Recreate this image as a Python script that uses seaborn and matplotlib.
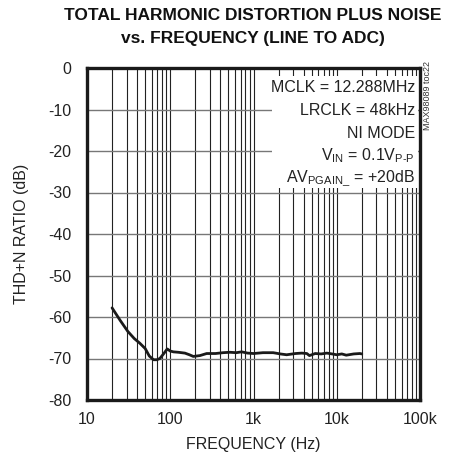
import numpy as np
import pandas as pd
import matplotlib
matplotlib.use("Agg")
import matplotlib.pyplot as plt
import seaborn as sns
from matplotlib.ticker import FixedLocator, NullFormatter

freq_hz = [20, 25, 31, 37, 43, 50, 56, 63, 69, 75, 83, 92, 100, 109, 125, 150, 170, 189,
           227, 274, 350, 430, 521, 620, 720, 850, 1000, 1300, 1726, 2100, 2500, 3200,
           3800, 4370, 4700, 5500, 6500, 7600, 8800, 10000, 11500, 13000, 16000, 19000, 20000]
thd_db = [-57.8, -60.8, -63.5, -65.2, -66.3, -67.6, -69.4, -70.3, -70.3, -70.0, -68.9, -67.7,
          -68.2, -68.4, -68.5, -68.7, -69.1, -69.5, -69.3, -68.8, -68.8, -68.6, -68.5, -68.6,
          -68.4, -68.7, -68.8, -68.6, -68.6, -68.9, -69.1, -68.8, -68.7, -68.8, -69.3, -68.8,
          -68.9, -68.7, -68.9, -69.1, -68.9, -69.2, -68.9, -68.8, -68.9]

x_ticks = [10, 100, 1000, 10000, 100000]
x_tick_labels = ["10", "100", "1k", "10k", "100k"]
y_ticks = [0, -10, -20, -30, -40, -50, -60, -70, -80]
y_tick_labels = ["0", "-10", "-20", "-30", "-40", "-50", "-60", "-70", "-80"]

title_lines = ["TOTAL HARMONIC DISTORTION PLUS NOISE", "vs. FREQUENCY (LINE TO ADC)"]
notes = ["MCLK = 12.288MHz", "LRCLK = 48kHz", "NI MODE",
         "V$_{\\mathregular{IN}}$ = 0.1V$_{\\mathregular{P\u2010P}}$",
         "AV$_{\\mathregular{PGAIN\\_}}$ = +20dB"]

sns.set_theme(style="white")
plt.rcParams["font.family"] = ["Liberation Sans", "DejaVu Sans"]
plt.rcParams["mathtext.fontset"] = "custom"
plt.rcParams["mathtext.rm"] = "Liberation Sans"

fig = plt.figure(figsize=(4.5, 4.63), dpi=100)
ax = fig.add_axes([87/450, 1-400/463, 333/450, 332/463])

df = pd.DataFrame({"freq": freq_hz, "thd": thd_db})
sns.lineplot(data=df, x="freq", y="thd", ax=ax, color="#1a1a1a", lw=2.0)

ax.set_xscale("log")
ax.set_xlim(10, 100000)
ax.set_ylim(-80, 0)
ax.xaxis.set_major_locator(FixedLocator(x_ticks))
ax.set_xticklabels(x_tick_labels)
minors = [m * 10**d for d in range(1, 5) for m in range(2, 10)]
ax.xaxis.set_minor_locator(FixedLocator(minors))
ax.xaxis.set_minor_formatter(NullFormatter())
ax.set_yticks(y_ticks)
ax.set_yticklabels(y_tick_labels)
ax.grid(True, which="both", axis="x", color="#222222", lw=0.8)
ax.grid(True, which="major", axis="y", color="#777777", lw=1.0)
ax.tick_params(axis="both", which="both", length=0, labelsize=11.5, colors="#222222")
ax.tick_params(axis="x", pad=9)
ax.tick_params(axis="y", pad=11)
for s in ax.spines.values():
    s.set_visible(True)
    s.set_color("#1a1a1a")
    s.set_linewidth(2.4)
ax.set_xlabel("FREQUENCY (Hz)", fontsize=11.5, color="#222222", labelpad=7)
ax.set_ylabel("THD+N RATIO (dB)", fontsize=11.5, color="#222222", labelpad=14)

# white box behind notes
box_l = (272 - 87) / 333
box_t = (400 - 76) / 332
box_b = (400 - 188) / 332
ax.add_patch(plt.Rectangle((box_l, box_b), 0.995 - box_l, box_t - box_b,
                           transform=ax.transAxes, facecolor="white", edgecolor="none", zorder=3))
for i, t in enumerate(notes):
    yy = (400 - (88 + i * 22.5)) / 332
    ax.text(0.985, yy, t, transform=ax.transAxes, ha="right", va="center",
            fontsize=11.5, color="#222222", zorder=4)

fig.text(428/450, 1 - 95/463, "MAX98089 toc22", rotation=90, ha="center", va="center",
         fontsize=6.5, color="#333333")
fig.text(253/450, 1 - 15/463, title_lines[0], ha="center", va="center",
         fontsize=12.5, fontweight="bold", color="#111111")
fig.text(253/450, 1 - 38/463, title_lines[1], ha="center", va="center",
         fontsize=12.5, fontweight="bold", color="#111111")

fig.savefig("out.png", dpi=100)
